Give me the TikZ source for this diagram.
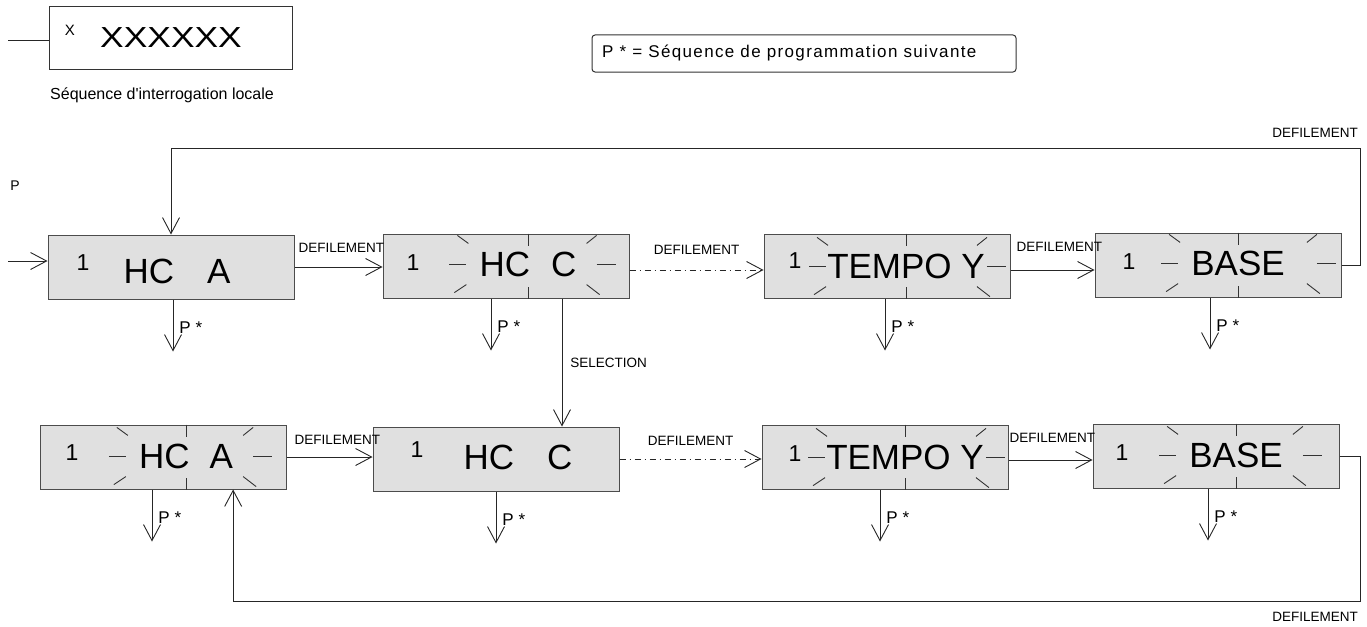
\documentclass[tikz,border=0pt]{standalone}
\usepackage{fontspec}
\setmainfont{Liberation Sans}
\usetikzlibrary{arrows.meta,calc,positioning}

% blinking marks round the text #1t of display #1 (#2, #3: shift of left / right marks)
\newcommand\blinkmarks[3]{%
    \draw[blink] ($(#1t.west)+(#2,0)+(-30,0)$) -- ++(17,0);
    \draw[blink] ($(#1t.north west)+(#2,0)+(-22,-16)$) -- ++(11,8);
    \draw[blink] ($(#1t.south west)+(#2,0)+(-25,16)$) -- ++(12,-8);
    \draw[blink] ($(#1t.east)+(#3,0)+(20,0)$) -- ++(19,0);
    \draw[blink] ($(#1t.north east)+(#3,0)+(10,-8)$) -- ++(10,-8);
    \draw[blink] ($(#1t.south east)+(#3,0)+(10,8)$) -- ++(13,10);
    \draw[blink] (#1t.center |- #1.north) -- ++(0,12);
    \draw[blink] (#1t.center |- #1.south) -- ++(0,-12);
}

\begin{document}
\begin{tikzpicture}[x=1pt,y=-1pt,
    display/.style={draw=black!70,fill=black!12,line width=1pt,minimum width=246pt,minimum height=64pt,inner sep=0pt},
    big/.style={inner sep=0pt,font=\fontsize{35}{35}\selectfont},
    digit/.style={inner sep=0pt,font=\fontsize{23}{23}\selectfont},
    lbl/.style={inner sep=0pt,font=\fontsize{13.5}{13.5}\selectfont},
    note/.style={inner sep=0pt,font=\fontsize{17}{17}\selectfont},
    flow/.style={draw=black!85,line width=0.9pt,-{Straight Barb[length=16pt,width=17pt]}},
    dashdot/.style={dash pattern=on 6pt off 4pt on 1pt off 4pt},
    blink/.style={draw=black!80,line width=0.9pt}]

    \useasboundingbox (0,0) rectangle (1367,626);

    % legend
    \node[draw=black!80,line width=1pt,minimum width=243pt,minimum height=63pt,anchor=north west] (legend) at (49,6) {};
    \coordinate (lgin) at (8,40);
    \draw[black!85,line width=0.9pt] (lgin) -- (lgin -| legend.west);
    \node[note,font=\fontsize{15}{15}\selectfont] (lgx) at (70,30) {X};
    \node[inner sep=0pt,font=\fontsize{29}{29}\selectfont] (lgxx) at (171,38) {\scalebox{1.22}[1]{XXXXXX}};
    \node[note,anchor=west,font=\fontsize{16}{16}\selectfont] (lgtxt) at (50,95) {Séquence d\textquotesingle interrogation locale};
    \node[draw=black!80,line width=1pt,rounded corners=3pt,minimum width=424pt,minimum height=37pt] (pnote) at (804,53.5) {};
    \node[note,anchor=west,font=\fontsize{17}{17}\selectfont\addfontfeature{LetterSpace=8}] (pnotetxt) at (602,53) {P * = Séquence de programmation suivante};
    \node[note,font=\fontsize{14}{14}\selectfont] (plbl) at (15,186) {P};

    % displays
    \foreach \name/\x/\y in {a1/171/267,c1/506/266,t1/887/266,b1/1218/265,a2/163/457,c2/496/459,t2/885/457,b2/1216/456}{
        \node[display] (\name) at (\x,\y) {};
    }

    \node[digit] (a1n) at (83,263) {1};
    \node[big] (a1t) at (177,271) {HC\hspace{33pt}A};
    \node[digit] (c1n) at (413,263) {1};
    \node[big] (c1t) at (528,264) {HC\hspace{21pt}C};
    \node[digit] (t1n) at (795,261) {1};
    \node[big] (t1t) at (906,266) {TEMPO Y};
    \node[digit] (b1n) at (1129,262) {1};
    \node[big] (b1t) at (1238,263) {BASE};
    \node[digit] (a2n) at (72,453) {1};
    \node[big] (a2t) at (186,456) {HC\hspace{20pt}A};
    \node[digit] (c2n) at (417,450) {1};
    \node[big] (c2t) at (518,457) {HC\hspace{33pt}C};
    \node[digit] (t2n) at (795,454) {1};
    \node[big] (t2t) at (905,457) {TEMPO Y};
    \node[digit] (b2n) at (1122,453) {1};
    \node[big] (b2t) at (1236,455) {BASE};

    \blinkmarks{c1}{0}{0}
    \blinkmarks{t1}{12}{-18}
    \blinkmarks{b1}{0}{12}
    \blinkmarks{a2}{0}{0}
    \blinkmarks{t2}{12}{-18}
    \blinkmarks{b2}{0}{0}

    % row 1
    \coordinate (in) at (8,261);
    \draw[flow] (in) -- (in -| a1.west);
    \draw[flow] (a1.east) -- (a1.east -| c1.west);
    \node[lbl,above right=14pt and 4pt of a1.east] (d1) {DEFILEMENT};
    \draw[flow,dashdot] ([yshift=-4pt]c1.east) -- node[lbl,above=15pt] (d2) {DEFILEMENT} ([yshift=-4pt]c1.east -| t1.west);
    \draw[flow] ([yshift=-4pt]t1.east) -- ([yshift=-4pt]t1.east -| b1.west);
    \node[lbl,above right=14pt and 6pt of t1.east] (d3) {DEFILEMENT};

    % loop back to the first display
    \coordinate (tr) at (1360,148);
    \draw[flow] (b1.east) -- (b1.east -| tr) -- (tr) -- (tr -| a1.north) -- (a1.north);
    \node[lbl,anchor=east] (d4) at (1358,133) {DEFILEMENT};

    % selection
    \draw[flow] ([xshift=56pt]c1.south) -- node[lbl,right=8pt] (sel) {SELECTION} ([xshift=56pt]c1.south |- c2.north);

    % row 2
    \draw[flow] (a2.east) -- (a2.east -| c2.west);
    \node[lbl,above right=12pt and 8pt of a2.east] (d5) {DEFILEMENT};
    \draw[flow,dashdot] (c2.east) -- node[lbl,above=13pt] (d6) {DEFILEMENT} (c2.east -| t2.west);
    \draw[flow] ([yshift=-3pt]t2.east) -- ([yshift=-3pt]t2.east -| b2.west);
    \node[lbl,above right=14pt and 1pt of t2.east] (d7) {DEFILEMENT};

    \coordinate (br) at (1360,601);
    \draw[flow] (b2.east) -- (b2.east -| br) -- (br) -- (br -| a2t.east) -- (a2t.east |- a2.south);
    \node[lbl,anchor=east] (d8) at (1358,617) {DEFILEMENT};

    % next programming sequence
    \foreach \name/\dx in {a1/2,c1/-15,t1/-2,b1/-8,a2/-11,c2/0,t2/-5,b2/-8}{
        \draw[flow] ([xshift=\dx pt]\name.south) -- ++(0,52) node[note,pos=0.55,right=6pt] {P *};
    }
\end{tikzpicture}
\end{document}
